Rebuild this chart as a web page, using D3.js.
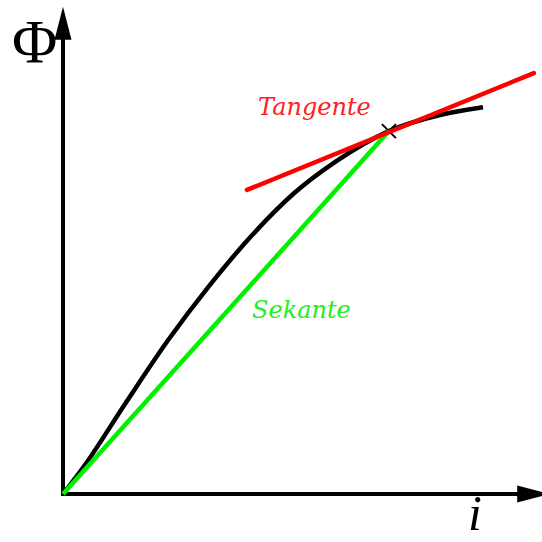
<!DOCTYPE html>
<html>
<head>
<meta charset="utf-8">
<script src="https://cdn.jsdelivr.net/npm/d3@7"></script>
<style>
  html, body { margin: 0; padding: 0; background: #fff; }
  svg { display: block; }
</style>
</head>
<body>
<svg id="chart" width="542" height="542"></svg>
<script>
// Magnetisation curve Φ(i) with secant and tangent at the working point
const curveI   = [0, 5, 15, 25, 35, 45, 55, 65, 77.6, 90, 100];
const curvePhi = [0, 6.6, 21.8, 36.6, 49.8, 61.6, 71.6, 79.2, 86.4, 90.3, 92.1];

const workPoint = { i: 77.6, phi: 86.4 };          // operating point (marked with ×)
const secantI   = [0, workPoint.i];
const secantPhi = [0, workPoint.phi];
const tangentI   = [43.8, 112.1];
const tangentPhi = [72.4, 100.2];

const axisMax = 116;
const labels = { y: "Φ", x: "i", tangent: "Tangente", secant: "Sekante" };

const svg = d3.select("#chart");
const x = d3.scaleLinear().domain([0, 100]).range([63, 483]);
const y = d3.scaleLinear().domain([0, 100]).range([494, 74]);

// axes with arrow heads
const axisG = svg.append("g");
axisG.append("line")
  .attr("x1", x(0) - 2).attr("y1", y(0)).attr("x2", x(axisMax) - 20).attr("y2", y(0))
  .attr("stroke", "#000").attr("stroke-width", 4);
axisG.append("line")
  .attr("x1", x(0)).attr("y1", y(0) + 2).attr("x2", x(0)).attr("y2", y(axisMax) + 20)
  .attr("stroke", "#000").attr("stroke-width", 4);
const headLen = 33, headHalf = 8.5;
axisG.append("path")
  .attr("d", `M${x(axisMax)},${y(0)} L${x(axisMax) - headLen},${y(0) - headHalf} L${x(axisMax) - headLen},${y(0) + headHalf} Z`)
  .attr("fill", "#000");
axisG.append("path")
  .attr("d", `M${x(0)},${y(axisMax)} L${x(0) - headHalf},${y(axisMax) + headLen} L${x(0) + headHalf},${y(axisMax) + headLen} Z`)
  .attr("fill", "#000");

// curve
const curveData = curveI.map((v, k) => [v, curvePhi[k]]);
svg.append("path")
  .datum(curveData)
  .attr("d", d3.line().x(d => x(d[0])).y(d => y(d[1])).curve(d3.curveMonotoneX))
  .attr("fill", "none").attr("stroke", "#000").attr("stroke-width", 4.5)
  .attr("stroke-linecap", "butt");

// marker at operating point
const cx = x(workPoint.i), cy = y(workPoint.phi), m = 7;
svg.append("path")
  .attr("d", `M${cx - m},${cy - m} L${cx + m},${cy + m} M${cx - m},${cy + m} L${cx + m},${cy - m}`)
  .attr("stroke", "#000").attr("stroke-width", 2);

const seg = d3.line().x(d => x(d[0])).y(d => y(d[1]));
// secant
svg.append("path")
  .datum(secantI.map((v, k) => [v, secantPhi[k]]))
  .attr("d", seg)
  .attr("fill", "none").attr("stroke", "#00f000").attr("stroke-width", 4.5);
// tangent
svg.append("path")
  .datum(tangentI.map((v, k) => [v, tangentPhi[k]]))
  .attr("d", seg)
  .attr("fill", "none").attr("stroke", "#ff0000").attr("stroke-width", 4.5)
  .attr("stroke-linecap", "round");

// labels
svg.append("text")
  .attr("x", 258).attr("y", 115)
  .attr("font-family", "DejaVu Serif").attr("font-style", "italic").attr("font-size", 24)
  .attr("fill", "#ff2020").text(labels.tangent);
svg.append("text")
  .attr("x", 252).attr("y", 318)
  .attr("font-family", "DejaVu Serif").attr("font-style", "italic").attr("font-size", 24)
  .attr("fill", "#20f020").text(labels.secant);
svg.append("text")
  .attr("x", 12).attr("y", 62)
  .attr("font-family", "Liberation Serif").attr("font-size", 62)
  .attr("fill", "#000").text(labels.y);
svg.append("text")
  .attr("x", 468).attr("y", 530)
  .attr("font-family", "Liberation Serif").attr("font-style", "italic").attr("font-size", 50)
  .attr("fill", "#000").text(labels.x);
</script>
</body>
</html>
